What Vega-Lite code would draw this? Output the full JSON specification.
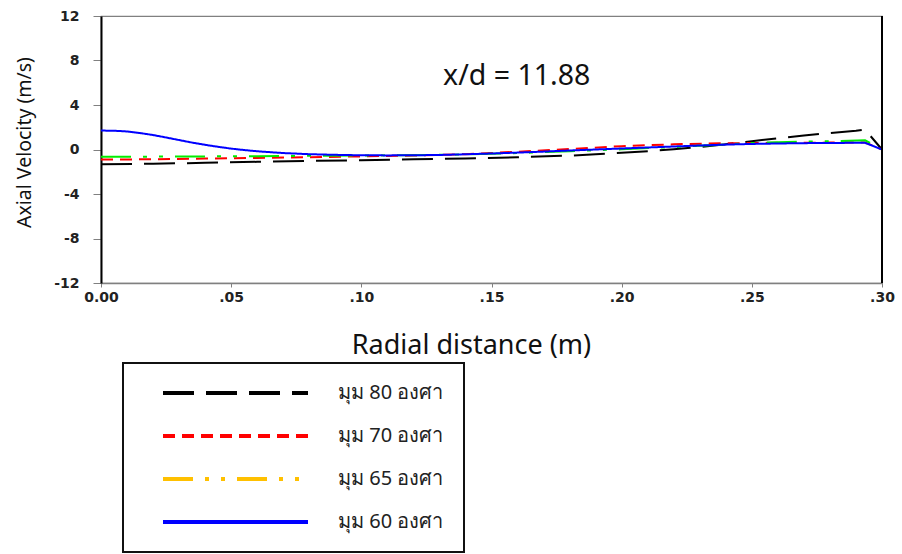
{
  "$schema": "https://vega.github.io/schema/vega-lite/v6.json",
  "width": 781,
  "height": 267,
  "autosize": {"type": "none"},
  "padding": {"left": 101, "top": 16, "right": 20, "bottom": 271},
  "background": "white",
  "config": {
    "view": {"stroke": "#808080", "strokeWidth": 1.2},
    "legend": {"strokeWidth": 2},
    "axis": {
      "grid": false,
      "labelFont": "DejaVu Sans",
      "labelFontSize": 14,
      "labelFontWeight": "bold",
      "labelColor": "#222",
      "labelFlush": false,
      "tickColor": "#808080",
      "titleFont": "Noto Sans",
      "titleFontWeight": "normal",
      "titleColor": "#111"
    }
  },
  "datasets": {
    "notes": [{"label": "x/d = 11.88"}],
    "curves": [
      {"r": 0.0, "v": -1.33, "s": "มุม 80 องศา"},
      {"r": 0.02, "v": -1.28, "s": "มุม 80 องศา"},
      {"r": 0.04, "v": -1.2, "s": "มุม 80 องศา"},
      {"r": 0.06, "v": -1.11, "s": "มุม 80 องศา"},
      {"r": 0.08, "v": -1.03, "s": "มุม 80 องศา"},
      {"r": 0.1, "v": -0.96, "s": "มุม 80 องศา"},
      {"r": 0.12, "v": -0.88, "s": "มุม 80 องศา"},
      {"r": 0.14, "v": -0.8, "s": "มุม 80 องศา"},
      {"r": 0.16, "v": -0.7, "s": "มุม 80 องศา"},
      {"r": 0.18, "v": -0.55, "s": "มุม 80 องศา"},
      {"r": 0.19, "v": -0.42, "s": "มุม 80 องศา"},
      {"r": 0.2, "v": -0.3, "s": "มุม 80 องศา"},
      {"r": 0.21, "v": -0.15, "s": "มุม 80 องศา"},
      {"r": 0.22, "v": 0.02, "s": "มุม 80 องศา"},
      {"r": 0.23, "v": 0.22, "s": "มุม 80 องศา"},
      {"r": 0.24, "v": 0.48, "s": "มุม 80 องศา"},
      {"r": 0.25, "v": 0.75, "s": "มุม 80 องศา"},
      {"r": 0.26, "v": 1.0, "s": "มุม 80 องศา"},
      {"r": 0.27, "v": 1.25, "s": "มุม 80 องศา"},
      {"r": 0.28, "v": 1.48, "s": "มุม 80 องศา"},
      {"r": 0.29, "v": 1.68, "s": "มุม 80 องศา"},
      {"r": 0.2935, "v": 1.78, "s": "มุม 80 องศา"},
      {"r": 0.3, "v": 0.0, "s": "มุม 80 องศา"},
      {"r": 0.0, "v": -0.9, "s": "มุม 70 องศา"},
      {"r": 0.02, "v": -0.88, "s": "มุม 70 องศา"},
      {"r": 0.04, "v": -0.82, "s": "มุม 70 องศา"},
      {"r": 0.06, "v": -0.76, "s": "มุม 70 องศา"},
      {"r": 0.08, "v": -0.69, "s": "มุม 70 องศา"},
      {"r": 0.1, "v": -0.62, "s": "มุม 70 องศา"},
      {"r": 0.12, "v": -0.54, "s": "มุม 70 องศา"},
      {"r": 0.14, "v": -0.42, "s": "มุม 70 องศา"},
      {"r": 0.16, "v": -0.2, "s": "มุม 70 องศา"},
      {"r": 0.18, "v": 0.04, "s": "มุม 70 องศา"},
      {"r": 0.2, "v": 0.3, "s": "มุม 70 องศา"},
      {"r": 0.22, "v": 0.47, "s": "มุม 70 องศา"},
      {"r": 0.24, "v": 0.56, "s": "มุม 70 องศา"},
      {"r": 0.26, "v": 0.6, "s": "มุม 70 องศา"},
      {"r": 0.28, "v": 0.62, "s": "มุม 70 องศา"},
      {"r": 0.2935, "v": 0.63, "s": "มุม 70 องศา"},
      {"r": 0.3, "v": 0.0, "s": "มุม 70 องศา"},
      {"r": 0.0, "v": -0.65, "s": "มุม 65 องศา"},
      {"r": 0.02, "v": -0.64, "s": "มุม 65 องศา"},
      {"r": 0.04, "v": -0.62, "s": "มุม 65 องศา"},
      {"r": 0.06, "v": -0.6, "s": "มุม 65 องศา"},
      {"r": 0.08, "v": -0.57, "s": "มุม 65 องศา"},
      {"r": 0.1, "v": -0.54, "s": "มุม 65 องศา"},
      {"r": 0.12, "v": -0.51, "s": "มุม 65 องศา"},
      {"r": 0.14, "v": -0.45, "s": "มุม 65 องศา"},
      {"r": 0.16, "v": -0.32, "s": "มุม 65 องศา"},
      {"r": 0.18, "v": -0.15, "s": "มุม 65 องศา"},
      {"r": 0.2, "v": 0.02, "s": "มุม 65 องศา"},
      {"r": 0.22, "v": 0.22, "s": "มุม 65 องศา"},
      {"r": 0.24, "v": 0.45, "s": "มุม 65 องศา"},
      {"r": 0.25, "v": 0.58, "s": "มุม 65 องศา"},
      {"r": 0.26, "v": 0.66, "s": "มุม 65 องศา"},
      {"r": 0.28, "v": 0.75, "s": "มุม 65 องศา"},
      {"r": 0.2935, "v": 0.83, "s": "มุม 65 องศา"},
      {"r": 0.3, "v": 0.0, "s": "มุม 65 องศา"},
      {"r": 0.0, "v": 1.7, "s": "มุม 60 องศา"},
      {"r": 0.005, "v": 1.69, "s": "มุม 60 องศา"},
      {"r": 0.01, "v": 1.62, "s": "มุม 60 องศา"},
      {"r": 0.015, "v": 1.48, "s": "มุม 60 องศา"},
      {"r": 0.02, "v": 1.3, "s": "มุม 60 องศา"},
      {"r": 0.025, "v": 1.08, "s": "มุม 60 องศา"},
      {"r": 0.03, "v": 0.85, "s": "มุม 60 องศา"},
      {"r": 0.035, "v": 0.62, "s": "มุม 60 องศา"},
      {"r": 0.04, "v": 0.42, "s": "มุม 60 องศา"},
      {"r": 0.045, "v": 0.24, "s": "มุม 60 องศา"},
      {"r": 0.05, "v": 0.08, "s": "มุม 60 องศา"},
      {"r": 0.055, "v": -0.05, "s": "มุม 60 องศา"},
      {"r": 0.06, "v": -0.16, "s": "มุม 60 องศา"},
      {"r": 0.07, "v": -0.32, "s": "มุม 60 องศา"},
      {"r": 0.08, "v": -0.42, "s": "มุม 60 องศา"},
      {"r": 0.09, "v": -0.48, "s": "มุม 60 องศา"},
      {"r": 0.1, "v": -0.52, "s": "มุม 60 องศา"},
      {"r": 0.11, "v": -0.53, "s": "มุม 60 องศา"},
      {"r": 0.12, "v": -0.52, "s": "มุม 60 องศา"},
      {"r": 0.13, "v": -0.49, "s": "มุม 60 องศา"},
      {"r": 0.14, "v": -0.43, "s": "มุม 60 องศา"},
      {"r": 0.15, "v": -0.36, "s": "มุม 60 องศา"},
      {"r": 0.16, "v": -0.28, "s": "มุม 60 องศา"},
      {"r": 0.17, "v": -0.19, "s": "มุม 60 องศา"},
      {"r": 0.18, "v": -0.09, "s": "มุม 60 องศา"},
      {"r": 0.19, "v": 0.0, "s": "มุม 60 องศา"},
      {"r": 0.2, "v": 0.09, "s": "มุม 60 องศา"},
      {"r": 0.21, "v": 0.18, "s": "มุม 60 องศา"},
      {"r": 0.22, "v": 0.27, "s": "มุม 60 องศา"},
      {"r": 0.23, "v": 0.36, "s": "มุม 60 องศา"},
      {"r": 0.24, "v": 0.44, "s": "มุม 60 องศา"},
      {"r": 0.25, "v": 0.5, "s": "มุม 60 องศา"},
      {"r": 0.26, "v": 0.54, "s": "มุม 60 องศา"},
      {"r": 0.27, "v": 0.57, "s": "มุม 60 องศา"},
      {"r": 0.28, "v": 0.59, "s": "มุม 60 องศา"},
      {"r": 0.29, "v": 0.6, "s": "มุม 60 องศา"},
      {"r": 0.2935, "v": 0.6, "s": "มุม 60 องศา"},
      {"r": 0.3, "v": 0.0, "s": "มุม 60 องศา"}
    ]
  },
  "layer": [
    {
      "data": {"name": "curves"},
      "mark": {"type": "line", "strokeWidth": 2},
      "encoding": {
        "x": {
          "field": "r",
          "type": "quantitative",
          "scale": {"domain": [0, 0.3], "nice": false, "zero": false},
          "axis": {
            "values": [0, 0.05, 0.1, 0.15, 0.2, 0.25, 0.3],
            "labelExpr": "datum.value == 0 ? '0.00' : replace(format(datum.value, '.2f'), '0.', '.')",
            "domainColor": "#808080",
            "domainWidth": 1.5,
            "tickSize": 4,
            "labelPadding": 3,
            "title": "Radial distance (m)",
            "titleFontSize": 27,
            "titleX": 370,
            "titleY": 62,
            "titleAlign": "center",
            "titleBaseline": "middle"
          }
        },
        "y": {
          "field": "v",
          "type": "quantitative",
          "scale": {"domain": [-12, 12], "nice": false},
          "axis": {
            "values": [-12, -8, -4, 0, 4, 8, 12],
            "labelExpr": "datum.value < 0 ? '-' + abs(datum.value) : '' + datum.value",
            "domainColor": "#000000",
            "domainWidth": 2,
            "tickSize": 8,
            "labelPadding": 14,
            "title": "Axial Velocity (m/s)",
            "titleFontSize": 19.5,
            "titleX": -77,
            "titleY": 126,
            "titleAngle": -90,
            "titleAlign": "center",
            "titleBaseline": "middle"
          }
        },
        "color": {
          "condition": {"test": "datum.s == 'มุม 65 องศา'", "value": "#00EE00"},
          "field": "s",
          "type": "nominal",
          "scale": {
            "domain": ["มุม 80 องศา", "มุม 70 องศา", "มุม 65 องศา", "มุม 60 องศา"],
            "range": ["#000000", "#FF0000", "#FFC000", "#0000FF"]
          },
          "legend": {
            "title": null,
            "orient": "none",
            "legendX": 22,
            "legendY": 347,
            "padding": 20,
            "symbolType": "stroke",
            "symbolSize": 21025,
            "symbolStrokeWidth": 4,
            "symbolOffset": 18,
            "clipHeight": 20,
            "rowPadding": 23,
            "labelOffset": 28,
            "labelFont": "Noto Sans",
            "labelFontSize": 20,
            "labelColor": "#222",
            "strokeColor": "#111",
            "fillColor": "white"
          }
        },
        "strokeDash": {
          "field": "s",
          "type": "nominal",
          "scale": {
            "domain": ["มุม 80 องศา", "มุม 70 องศา", "มุม 65 องศา", "มุม 60 องศา"],
            "range": [[31, 12], [12, 7], [30, 12, 4, 12, 4, 12], [1, 0]]
          },
          "legend": null
        }
      }
    },
    {
      "data": {"name": "notes"},
      "mark": {"type": "rule", "color": "#000000", "strokeWidth": 2},
      "encoding": {"x": {"datum": 0.3, "type": "quantitative"}}
    },
    {
      "data": {"name": "notes"},
      "mark": {"type": "text", "align": "left", "baseline": "middle", "font": "Noto Sans", "fontSize": 28.5, "color": "#111"},
      "encoding": {
        "x": {"datum": 0.1314, "type": "quantitative"},
        "y": {"datum": 6.6, "type": "quantitative"},
        "text": {"field": "label", "type": "nominal"}
      }
    }
  ]
}
